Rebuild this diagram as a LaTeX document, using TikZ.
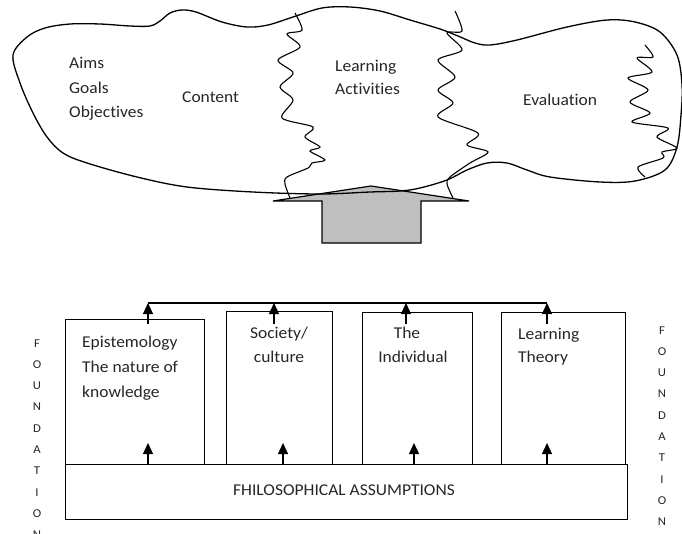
\documentclass[tikz,border=0pt]{standalone}
\usepackage{fontspec}
\setmainfont{Carlito}[Ligatures=NoCommon, FakeStretch=1.06]
\usetikzlibrary{arrows.meta}
\begin{document}
\begin{tikzpicture}[x=1pt,y=-1pt,
  outline/.style={line width=1.3pt, line join=round},
  squiggle/.style={line width=1.1pt},
  lbl/.style={font=\fontsize{16.5}{19}\selectfont, inner sep=0pt, text=black!85},
  sidelbl/.style={font=\fontsize{12}{13}\selectfont, inner sep=0pt, text=black!85},
  box/.style={draw, line width=1.2pt, anchor=north west, inner sep=0pt},
  uparr/.style={line width=1.2pt, -{Triangle[width=10pt,length=11pt]}},
  link/.style={line width=1.2pt}
]
\useasboundingbox (0,0) rectangle (682,533);

% ---- big arrow (drawn first, blob lines run over it)
\draw[line width=1.2pt, fill=black!25, line join=miter]
  (273,201) -- (371,186) -- (469,201) -- (421,201) -- (421,243)
  -- (322,243) -- (322,201) -- cycle;

% ---- blob outline
\draw[outline] plot[smooth cycle, tension=0.55] coordinates {
 (13,55) (27,37) (45,28) (70,24) (100,24) (130,26) (150,26) (160,21)
 (170,13) (182,10) (196,12) (222,22) (247,27) (268,25) (293,17) (322,8)
 (350,7) (380,11) (410,20) (440,29) (458,36) (475,43) (490,45) (517,40)
 (567,27) (607,20) (635,22) (660,32) (677,55) (682,85) (681,115) (677,147)
 (665,170) (635,181) (600,182) (550,177) (527,170) (507,163) (487,163)
 (467,170) (447,180) (420,188) (400,191) (370,192) (320,194) (253,192)
 (187,187) (137,177) (87,163) (63,153) (47,137) (33,113) (20,83)};

% ---- squiggles
\draw[squiggle] plot[smooth, tension=0.5] coordinates {
 (295,13) (302,30) (287,34) (300,47) (278,60) (293,73) (280,87) (293,100)
 (282,118) (313,127) (305,137) (320,147) (310,151) (325,160) (312,163)
 (308,168) (287,177) (285,184) (290,198)};
\draw[squiggle] plot[smooth, tension=0.5] coordinates {
 (455,11) (462,31) (447,33) (462,50) (438,60) (455,77) (438,90) (453,103)
 (438,117) (478,133) (467,145) (488,152) (470,163) (450,177) (447,184)
 (453,198)};
\draw[squiggle] plot[smooth, tension=0.5] coordinates {
 (645,45) (653,57) (637,58) (652,72) (628,78) (648,90) (630,102) (650,113)
 (632,122) (668,128) (657,137) (677,148) (662,152) (663,158) (638,167)
 (645,177)};

% ---- top texts
\node[lbl, anchor=base west] (aims) at (69,68) {Aims};
\node[lbl, anchor=base west] (goals) at (69,93) {Goals};
\node[lbl, anchor=base west] (obj) at (69,117) {Objectives};
\node[lbl, anchor=base west] (content) at (182,102) {Content};
\node[lbl, anchor=base west] (learn) at (335,71) {Learning};
\node[lbl, anchor=base west] (activ) at (335,94) {Activities};
\node[lbl, anchor=base west] (eval) at (523,105) {Evaluation};

% ---- boxes
\node[box, minimum width=139pt, minimum height=145pt] (b1) at (65,319) {};
\node[box, minimum width=106pt, minimum height=153pt] (b2) at (226,311) {};
\node[box, minimum width=110pt, minimum height=152pt] (b3) at (362,312) {};
\node[box, minimum width=124pt, minimum height=152pt] (b4) at (501,312) {};
\node[box, minimum width=562pt, minimum height=55pt] (base) at (65,464) {};

\node[lbl, anchor=base] (phil) at (344,495) {FHILOSOPHICAL ASSUMPTIONS};

\node[lbl, anchor=base west] (epi1) at (82,347) {Epistemology};
\node[lbl, anchor=base west] (epi2) at (82,372) {The nature of};
\node[lbl, anchor=base west] (epi3) at (82,397) {knowledge};
\node[lbl, anchor=base] (soc1) at (279,338) {Society/};
\node[lbl, anchor=base] (soc2) at (279,362) {culture};
\node[lbl, anchor=base] (ind1) at (407,338) {The};
\node[lbl, anchor=base] (ind2) at (413,362) {Individual};
\node[lbl, anchor=base west] (lt1) at (518,339) {Learning};
\node[lbl, anchor=base west] (lt2) at (518,362) {Theory};

% ---- top connector
\coordinate (t1) at (148,303);
\coordinate (t2) at (274,303);
\coordinate (t3) at (406,303);
\coordinate (t4) at (547,303);
\coordinate (s1) at (148,324);
\coordinate (s2) at (274,324);
\coordinate (s3) at (406,324);
\coordinate (s4) at (547,324);
\draw[link] (t1) -- (t4);
\foreach \i in {1,2,3,4} {\draw[uparr] (s\i) -- (t\i);}

% ---- bottom arrows
\coordinate (u1) at (148,443);
\coordinate (u2) at (283,443);
\coordinate (u3) at (414,443);
\coordinate (u4) at (547,443);
\foreach \i in {1,2,3,4} {\draw[uparr] (u\i |- base.north) -- (u\i);}

% ---- FOUNDATION columns
\foreach \c [count=\i from 0] in {F,O,U,N,D,A,T,I,O,N} {
  \node[sidelbl, anchor=base] (fl\i) at (37,347+21.3*\i) {\c};
  \node[sidelbl, anchor=base] (fr\i) at (662,334+21.3*\i) {\c};
}
\end{tikzpicture}
\end{document}
